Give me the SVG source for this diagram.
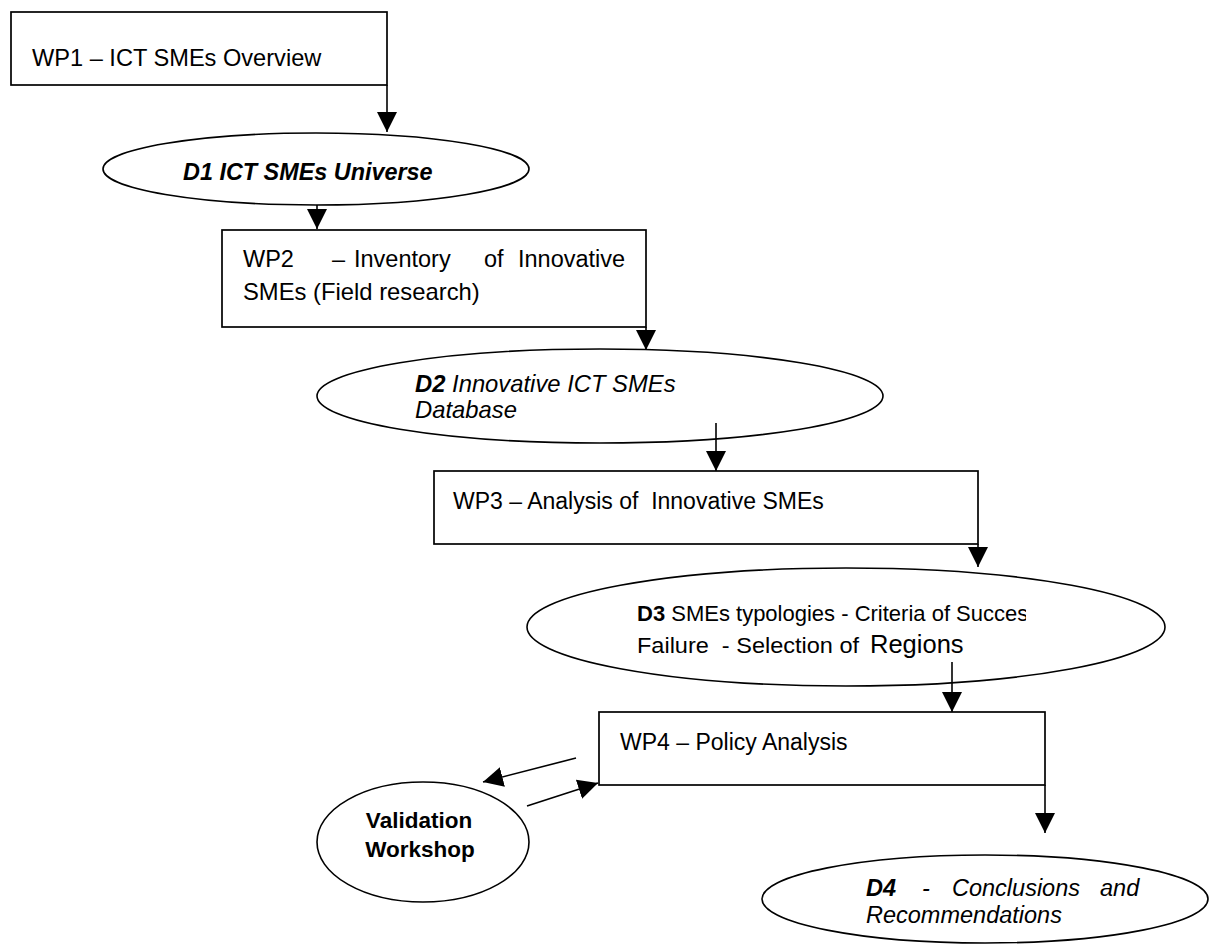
<svg xmlns="http://www.w3.org/2000/svg" width="1211" height="945" viewBox="0 0 1211 945">
  <style>
    .box { fill: #ffffff; stroke: #000000; stroke-width: 1.7; }
    .oval { fill: #ffffff; stroke: #000000; stroke-width: 1.6; }
    .link { fill: none; stroke: #000000; stroke-width: 1.6; marker-end: url(#head); }
    text { font-family: "Liberation Sans", Arial, sans-serif; fill: #000000; }
    .b { font-weight: bold; }
    .i { font-style: italic; }
  </style>
  <defs>
    <marker id="head" markerUnits="userSpaceOnUse" markerWidth="21" markerHeight="21" refX="20" refY="10" orient="auto">
      <path d="M0,0 L20,10 L0,20 Z" fill="#000000"/>
    </marker>
    <clipPath id="d3clip">
      <rect x="520" y="560" width="506" height="140"/>
    </clipPath>
  </defs>

  <!-- work package 1 -->
  <g id="wp1">
    <rect class="box" x="11" y="12" width="376" height="73"/>
    <text x="32" y="66" font-size="23.6">WP1 – ICT SMEs Overview</text>
  </g>

  <!-- deliverable 1 -->
  <g id="d1">
    <ellipse class="oval" cx="316" cy="169" rx="213" ry="36"/>
    <text x="183" y="180" font-size="23.4" class="b i">D1 ICT SMEs Universe</text>
  </g>

  <!-- work package 2 -->
  <g id="wp2">
    <rect class="box" x="222" y="230" width="424" height="97"/>
    <text y="267" font-size="23.5">
      <tspan x="243">WP2</tspan><tspan x="332">–</tspan><tspan x="354">Inventory</tspan><tspan x="484">of</tspan><tspan x="518">Innovative</tspan>
    </text>
    <text x="243" y="300" font-size="23.8">SMEs (Field research)</text>
  </g>

  <!-- deliverable 2 -->
  <g id="d2">
    <ellipse class="oval" cx="600" cy="396" rx="283" ry="47"/>
    <text x="415" y="392" font-size="23.8" class="i"><tspan class="b">D2</tspan> Innovative ICT SMEs</text>
    <text x="415" y="418" font-size="23.8" class="i">Database</text>
  </g>

  <!-- work package 3 -->
  <g id="wp3">
    <rect class="box" x="434" y="471" width="544" height="73"/>
    <text x="453" y="509" font-size="23" xml:space="preserve">WP3 – Analysis of  Innovative SMEs</text>
  </g>

  <!-- deliverable 3 -->
  <g id="d3">
    <ellipse class="oval" cx="846" cy="627" rx="319" ry="59"/>
    <text x="637" y="621" font-size="22" clip-path="url(#d3clip)"><tspan class="b">D3</tspan> SMEs typologies - Criteria of Succes</text>
    <text x="637" y="653" font-size="22" textLength="222" lengthAdjust="spacingAndGlyphs" xml:space="preserve">Failure  - Selection of</text>
    <text x="870" y="653" font-size="25.5">Regions</text>
  </g>

  <!-- work package 4 -->
  <g id="wp4">
    <rect class="box" x="599" y="712" width="446" height="73"/>
    <text x="620" y="750" font-size="23">WP4 – Policy Analysis</text>
  </g>

  <!-- validation workshop -->
  <g id="workshop">
    <ellipse class="oval" cx="423" cy="842" rx="106" ry="60"/>
    <text x="419" y="828" font-size="22.5" class="b" text-anchor="middle">Validation</text>
    <text x="420" y="857" font-size="22.5" class="b" text-anchor="middle">Workshop</text>
  </g>

  <!-- deliverable 4 -->
  <g id="d4">
    <ellipse class="oval" cx="985" cy="899" rx="223" ry="44"/>
    <text y="896" font-size="23.5" class="i">
      <tspan x="866" class="b">D4</tspan><tspan x="922">-</tspan><tspan x="952">Conclusions</tspan><tspan x="1100">and</tspan>
    </text>
    <text x="866" y="923" font-size="23.5" class="i">Recommendations</text>
  </g>

  <!-- connectors, drawn over the shapes they leave -->
  <g id="connectors">
    <path class="link" d="M387,85 V132"/>
    <path class="link" d="M317,205 V229"/>
    <path class="link" d="M646,327 V350"/>
    <path class="link" d="M716,423 V471"/>
    <path class="link" d="M978,544 V567"/>
    <path class="link" d="M952,662 V712"/>
    <path class="link" d="M1045,785 V833"/>
    <path class="link" d="M576,758 L483,782"/>
    <path class="link" d="M527,806 L598,783"/>
  </g>
</svg>
